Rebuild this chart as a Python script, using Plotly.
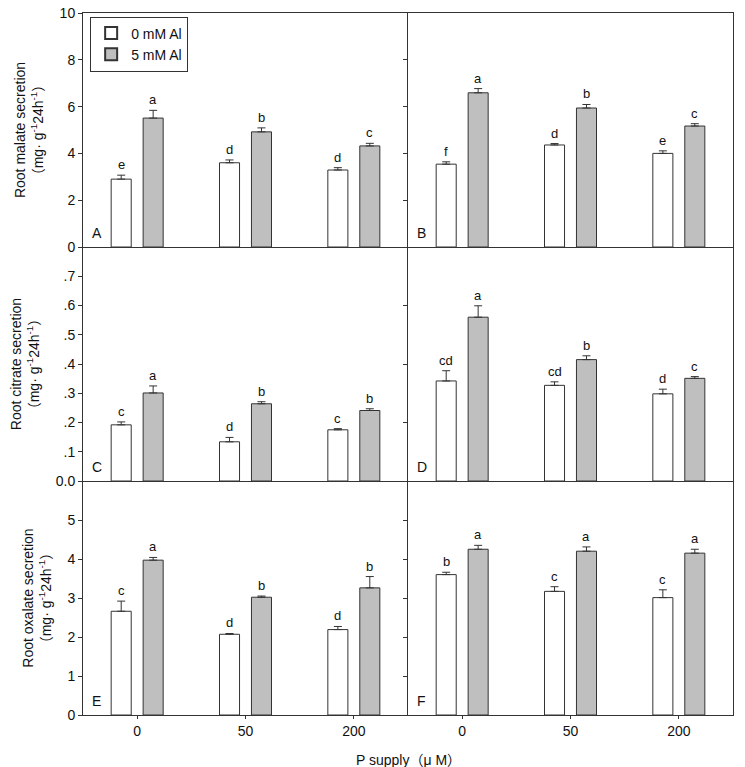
import plotly.graph_objects as go
from plotly.subplots import make_subplots

p_supply = ["0", "50", "200"]
series_names = ["0 mM Al", "5 mM Al"]

# panel values: [0 mM Al, 5 mM Al]
malate_A = [[2.90, 3.60, 3.29], [5.51, 4.92, 4.32]]
malate_A_err = [[0.17, 0.12, 0.10], [0.33, 0.17, 0.11]]
malate_A_sig = [["e", "d", "d"], ["a", "b", "c"]]

malate_B = [[3.54, 4.36, 4.00], [6.59, 5.94, 5.17]]
malate_B_err = [[0.10, 0.06, 0.11], [0.18, 0.15, 0.10]]
malate_B_sig = [["f", "d", "e"], ["a", "b", "c"]]

citrate_C = [[0.192, 0.134, 0.175], [0.301, 0.264, 0.241]]
citrate_C_err = [[0.010, 0.015, 0.004], [0.024, 0.007, 0.006]]
citrate_C_sig = [["c", "d", "c"], ["a", "b", "b"]]

citrate_D = [[0.342, 0.327, 0.298], [0.560, 0.415, 0.351]]
citrate_D_err = [[0.035, 0.012, 0.016], [0.039, 0.013, 0.006]]
citrate_D_sig = [["cd", "cd", "d"], ["a", "b", "c"]]

oxalate_E = [[2.66, 2.07, 2.19], [3.97, 3.02, 3.26]]
oxalate_E_err = [[0.26, 0.02, 0.08], [0.07, 0.03, 0.29]]
oxalate_E_sig = [["c", "d", "d"], ["a", "b", "b"]]

oxalate_F = [[3.60, 3.17, 3.01], [4.25, 4.20, 4.15]]
oxalate_F_err = [[0.06, 0.12, 0.20], [0.10, 0.11, 0.10]]
oxalate_F_sig = [["b", "c", "c"], ["a", "a", "a"]]

panels = [
    ("A", 1, 1, malate_A, malate_A_err, malate_A_sig),
    ("B", 1, 2, malate_B, malate_B_err, malate_B_sig),
    ("C", 2, 1, citrate_C, citrate_C_err, citrate_C_sig),
    ("D", 2, 2, citrate_D, citrate_D_err, citrate_D_sig),
    ("E", 3, 1, oxalate_E, oxalate_E_err, oxalate_E_sig),
    ("F", 3, 2, oxalate_F, oxalate_F_err, oxalate_F_sig),
]

row_titles = [
    "Root malate secretion<br>（mg· g<sup>-1</sup>24h<sup>-1</sup>）",
    "Root citrate secretion<br>（mg· g<sup>-1</sup>24h<sup>-1</sup>）",
    "Root oxalate secretion<br>（mg· g<sup>-1</sup>24h<sup>-1</sup>）",
]
row_ranges = [[0, 10], [0, 0.8], [0, 6]]
left_ticks = [
    ([0, 2, 4, 6, 8, 10], ["0", "2", "4", "6", "8", "10"]),
    ([0, .1, .2, .3, .4, .5, .6, .7], ["0.0", ".1", ".2", ".3", ".4", ".5", ".6", ".7"]),
    ([0, 1, 2, 3, 4, 5], ["0", "1", "2", "3", "4", "5"]),
]
right_ticks = [[2, 4, 6, 8], [.2, .4, .6], [1, 2, 3, 4, 5]]

FONT = "Liberation Sans, Arial, Noto Sans CJK SC, sans-serif"
LINE = "#333333"
fills = ["white", "#bfbfbf"]
bar_w = 0.185
offsets = [-0.24, 0.055]

fig = make_subplots(rows=3, cols=2, horizontal_spacing=0, vertical_spacing=0)
xcat = [0, 1, 2]

for letter, r, c, vals, errs, sigs in panels:
    for s in range(2):
        fig.add_trace(go.Bar(
            x=xcat, y=vals[s], width=bar_w, offset=offsets[s],
            marker=dict(color=fills[s], line=dict(color=LINE, width=1)),
            error_y=dict(type="data", symmetric=False, array=errs[s],
                         arrayminus=[0, 0, 0], color=LINE, thickness=1, width=4),
            name=series_names[s], legendgroup=series_names[s],
            showlegend=(letter == "A"),
        ), row=r, col=c)
        for i in range(3):
            fig.add_annotation(
                x=xcat[i] + offsets[s] + bar_w / 2, y=vals[s][i] + errs[s][i],
                text=sigs[s][i], showarrow=False, yanchor="bottom", yshift=1,
                font=dict(size=13, color="#111"), row=r, col=c)
    fig.add_annotation(x=0.02, y=0.015, xref="x domain", yref="y domain",
                       text=letter, showarrow=False, xanchor="left", yanchor="bottom",
                       font=dict(size=14, color="#111"), row=r, col=c)

for r in range(1, 4):
    for c in range(1, 3):
        fig.update_xaxes(range=[-0.5, 2.5], tickvals=xcat, ticktext=p_supply,
                         showline=True, mirror=(r == 1), linecolor=LINE, linewidth=1,
                         showgrid=False, zeroline=False, automargin=False,
                         ticks="outside" if r == 3 else "", ticklen=3, tickcolor=LINE,
                         showticklabels=(r == 3), tickfont=dict(size=14, color="#111"),
                         row=r, col=c)
        if c == 1:
            tv, tt = left_ticks[r - 1]
            fig.update_yaxes(range=row_ranges[r - 1], tickvals=tv, ticktext=tt,
                             mirror=False,
                             title=dict(text=row_titles[r - 1], font=dict(size=14, color="#111"),
                                        standoff=12),
                             row=r, col=c)
        else:
            fig.update_yaxes(range=row_ranges[r - 1], tickvals=right_ticks[r - 1],
                             mirror=True, showticklabels=False, row=r, col=c)
        fig.update_yaxes(showline=True, linecolor=LINE, linewidth=1, automargin=False,
                         showgrid=False, zeroline=False, ticks="outside", ticklen=4,
                         tickcolor=LINE, tickfont=dict(size=14, color="#111"),
                         row=r, col=c)

fig.add_annotation(x=0.5, y=-0.05, xref="paper", yref="paper",
                   text="P supply（μ M）", showarrow=False, yanchor="top",
                   font=dict(size=14, color="#111"))

fig.update_layout(
    width=745, height=767,
    margin=dict(l=83, r=12, t=13, b=52),
    barmode="overlay",
    plot_bgcolor="white", paper_bgcolor="white",
    font=dict(family=FONT, size=13, color="#111"),
    legend=dict(x=0.011, y=0.995, xanchor="left", yanchor="top",
                bordercolor=LINE, borderwidth=1, bgcolor="white",
                font=dict(size=14), tracegroupgap=0, itemsizing="constant"),
)

# drop the page's default body margin so the figure fills the window
fig.write_html("out.html", config={"displayModeBar": False},
               post_script="document.body.style.margin='0';")
